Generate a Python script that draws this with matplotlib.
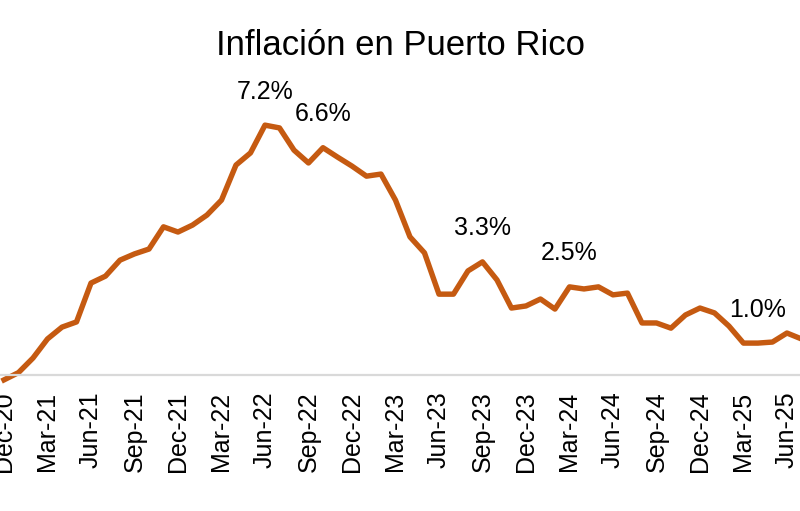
import matplotlib.pyplot as plt

# monthly inflation, Dec-20 .. Jul-25 (%)
months = ["Dec-20", "Jan-21", "Feb-21", "Mar-21", "Apr-21", "May-21", "Jun-21",
          "Jul-21", "Aug-21", "Sep-21", "Oct-21", "Nov-21", "Dec-21", "Jan-22",
          "Feb-22", "Mar-22", "Apr-22", "May-22", "Jun-22", "Jul-22", "Aug-22",
          "Sep-22", "Oct-22", "Nov-22", "Dec-22", "Jan-23", "Feb-23", "Mar-23",
          "Apr-23", "May-23", "Jun-23", "Jul-23", "Aug-23", "Sep-23", "Oct-23",
          "Nov-23", "Dec-23", "Jan-24", "Feb-24", "Mar-24", "Apr-24", "May-24",
          "Jun-24", "Jul-24", "Aug-24", "Sep-24", "Oct-24", "Nov-24", "Dec-24",
          "Jan-25", "Feb-25", "Mar-25", "Apr-25", "May-25", "Jun-25", "Jul-25"]
inflation = [-0.14, 0.07, 0.49, 1.04, 1.38, 1.53, 2.65, 2.85, 3.31, 3.49, 3.63,
             4.27, 4.12, 4.32, 4.61, 5.04, 6.05, 6.40, 7.20, 7.12, 6.48, 6.11,
             6.55, 6.28, 6.02, 5.73, 5.79, 5.04, 3.98, 3.52, 2.33, 2.33, 3.00,
             3.26, 2.74, 1.93, 1.99, 2.19, 1.90, 2.54, 2.48, 2.54, 2.31, 2.36,
             1.50, 1.50, 1.35, 1.73, 1.93, 1.79, 1.41, 0.92, 0.92, 0.95, 1.21,
             1.04]

# highlighted points: (month, text)
callouts = [("Jun-22", "7.2%"), ("Oct-22", "6.6%"), ("Sep-23", "3.3%"),
            ("Mar-24", "2.5%"), ("Apr-25", "1.0%")]

plt.rcParams['font.family'] = ['Liberation Sans', 'DejaVu Sans']

fig = plt.figure(figsize=(8, 5.11), dpi=100)
ax = fig.add_axes([0, 0.2172, 1, 0.6262])

x = list(range(len(months)))
ax.plot(x, inflation, color="#C55A11", linewidth=3.9)

for m, txt in callouts:
    i = months.index(m)
    ax.annotate(txt, (i, inflation[i]), xytext=(0, 19), textcoords="offset points",
                ha="center", va="baseline", fontsize=18, color="black")

ax.set_xlim(-0.276, 54.9)
ax.set_ylim(-0.72, 8.5)

ax.spines['bottom'].set_position(('data', 0))
ax.spines['bottom'].set_color("#D9D9D9")
ax.spines['bottom'].set_linewidth(1.6)
for s in ['left', 'right', 'top']:
    ax.spines[s].set_visible(False)

ax.set_xticks(x[::3])
ax.set_xticklabels(months[::3], rotation=90, fontsize=18, va="top", color="black")
ax.tick_params(axis='x', length=0, pad=12)
ax.set_yticks([])
ax.patch.set_visible(False)

fig.text(0.501, 1 - 55 / 511, "Inflación en Puerto Rico", ha="center",
         va="baseline", fontsize=25, color="black")

fig.savefig("out.png", dpi=100)
